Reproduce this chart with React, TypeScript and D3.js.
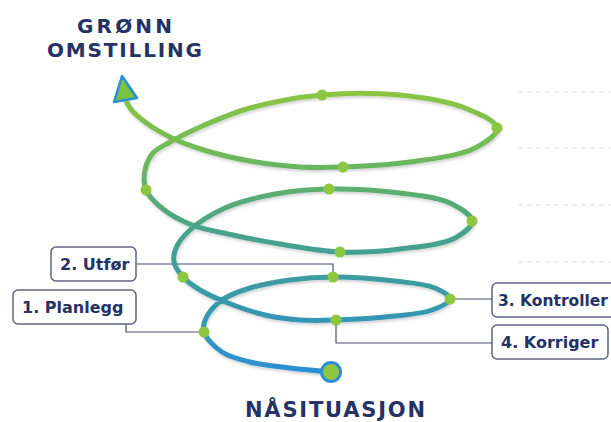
import React from 'react';
import * as d3 from 'd3';

// spiral waypoints, bottom (start) to top (arrow)
const spiralX = [331, 290, 250, 222, 204, 206, 222, 250, 290, 333, 395, 435, 450, 432, 395, 336, 300, 265, 228, 200, 183, 174, 176, 190, 225, 275, 329, 400, 450, 472, 455, 400, 340, 280, 228, 192, 163, 146, 145, 153, 170, 200, 250, 322, 400, 465, 497, 475, 410, 343, 300, 250, 207, 172, 145, 130, 125];
const spiralY = [372, 368, 362, 352, 332, 318, 300, 288, 280, 277, 281, 288, 299, 310, 316, 320, 320, 315, 303, 290, 277, 262, 248, 230, 208, 194, 189, 193, 203, 221, 238, 249, 252, 244, 234, 225, 209, 190, 170, 153, 142, 127, 108, 95, 95, 108, 128, 148, 162, 167, 167, 161, 151, 138, 122, 108, 98];

// indices of the spiral points that carry a green dot
const dotIdx = [4, 9, 12, 15, 20, 26, 29, 32, 37, 43, 46, 49];

// steps of the cycle
const stepLabels = ['1. Planlegg', '2. Utfør', '3. Kontroller', '4. Korriger'];
const stepDot = [4, 9, 12, 15];
const stepBoxX = [13, 51, 492, 492];
const stepBoxY = [290, 247, 283, 325];
const stepBoxW = [123, 85, 130, 116];

const guideY = [92, 148, 205, 262];

const navy = '#243266';
const font = "'DejaVu Sans', Verdana, sans-serif";

const App = () => {
  const line = d3
    .line<number>()
    .x((i) => spiralX[i])
    .y((i) => spiralY[i])
    .curve(d3.curveCatmullRom.alpha(0.5));
  const idx = d3.range(spiralX.length);
  const pathD = line(idx) || '';

  const boxH = 34;

  // connector routes from dot to box
  const connector = (s: number) => {
    const dx = spiralX[stepDot[s]];
    const dy = spiralY[stepDot[s]];
    const bx = stepBoxX[s];
    const by = stepBoxY[s];
    const bw = stepBoxW[s];
    if (s === 0) return `M${dx},${dy}H${bx + bw - 10}V${by + boxH}`;
    if (s === 1) return `M${dx},${dy}V${by + boxH / 2}H${bx + bw}`;
    if (s === 2) return `M${dx},${dy}H${bx}`;
    return `M${dx},${dy}V${by + boxH / 2 + 1}H${bx}`;
  };

  return (
    <svg width={611} height={422} style={{ position: 'absolute', left: 0, top: 0, background: '#fff' }}>
      <defs>
        <linearGradient id="spiralGrad" gradientUnits="userSpaceOnUse" x1="0" y1="380" x2="0" y2="85">
          <stop offset="0" stopColor="#2a8fd6" />
          <stop offset="0.3" stopColor="#3a9aa6" />
          <stop offset="0.5" stopColor="#48a28a" />
          <stop offset="0.75" stopColor="#6db85c" />
          <stop offset="1" stopColor="#8ec63f" />
        </linearGradient>
        <filter id="shadow" x="-10%" y="-10%" width="120%" height="130%">
          <feDropShadow dx="1" dy="2" stdDeviation="1.5" floodColor="#000" floodOpacity="0.18" />
        </filter>
      </defs>

      {guideY.map((y, i) => (
        <line key={i} x1={518} x2={611} y1={y} y2={y} stroke="#e2e2e2" strokeWidth={1.2} strokeDasharray="5 4" />
      ))}

      {stepLabels.map((_, s) => (
        <path key={s} d={connector(s)} fill="none" stroke="#4a4f75" strokeWidth={1.2} />
      ))}

      <path d={pathD} fill="none" stroke="url(#spiralGrad)" strokeWidth={5} strokeLinecap="round" filter="url(#shadow)" />

      {/* arrow head */}
      <polygon points="122,76 114,102 137,98" fill="#7cc242" stroke="#2a8fd6" strokeWidth={2.5} strokeLinejoin="round" />

      {dotIdx.map((i) => (
        <circle key={i} cx={spiralX[i]} cy={spiralY[i]} r={5.5} fill="#8dc63f" />
      ))}

      {/* start point */}
      <circle cx={spiralX[0]} cy={spiralY[0]} r={9.5} fill="#8dc63f" stroke="#2a8fd6" strokeWidth={3} />

      {stepLabels.map((lab, s) => (
        <g key={lab}>
          <rect
            x={stepBoxX[s]}
            y={stepBoxY[s]}
            width={stepBoxW[s]}
            height={boxH}
            rx={5}
            fill="#fff"
            stroke="#5d6382"
            strokeWidth={1.5}
          />
          <text
            x={stepBoxX[s] + (s === 2 ? 6 : 9)}
            y={stepBoxY[s] + 23}
            fontFamily={font}
            fontWeight={700}
            fontSize={16}
            fill={navy}
            {...(s === 2 ? { textLength: 110, lengthAdjust: 'spacingAndGlyphs' } : {})}
          >
            {lab}
          </text>
        </g>
      ))}

      <g fontFamily={font} fontWeight={700} fill={navy} textAnchor="middle">
        <text x={124.5} y={33} fontSize={20} textLength={95} lengthAdjust="spacing">GRØNN</text>
        <text x={124.5} y={57} fontSize={20} textLength={155} lengthAdjust="spacing">OMSTILLING</text>
        <text x={335} y={417} fontSize={21} textLength={180} lengthAdjust="spacing">NÅSITUASJON</text>
      </g>
    </svg>
  );
};

export default App;
